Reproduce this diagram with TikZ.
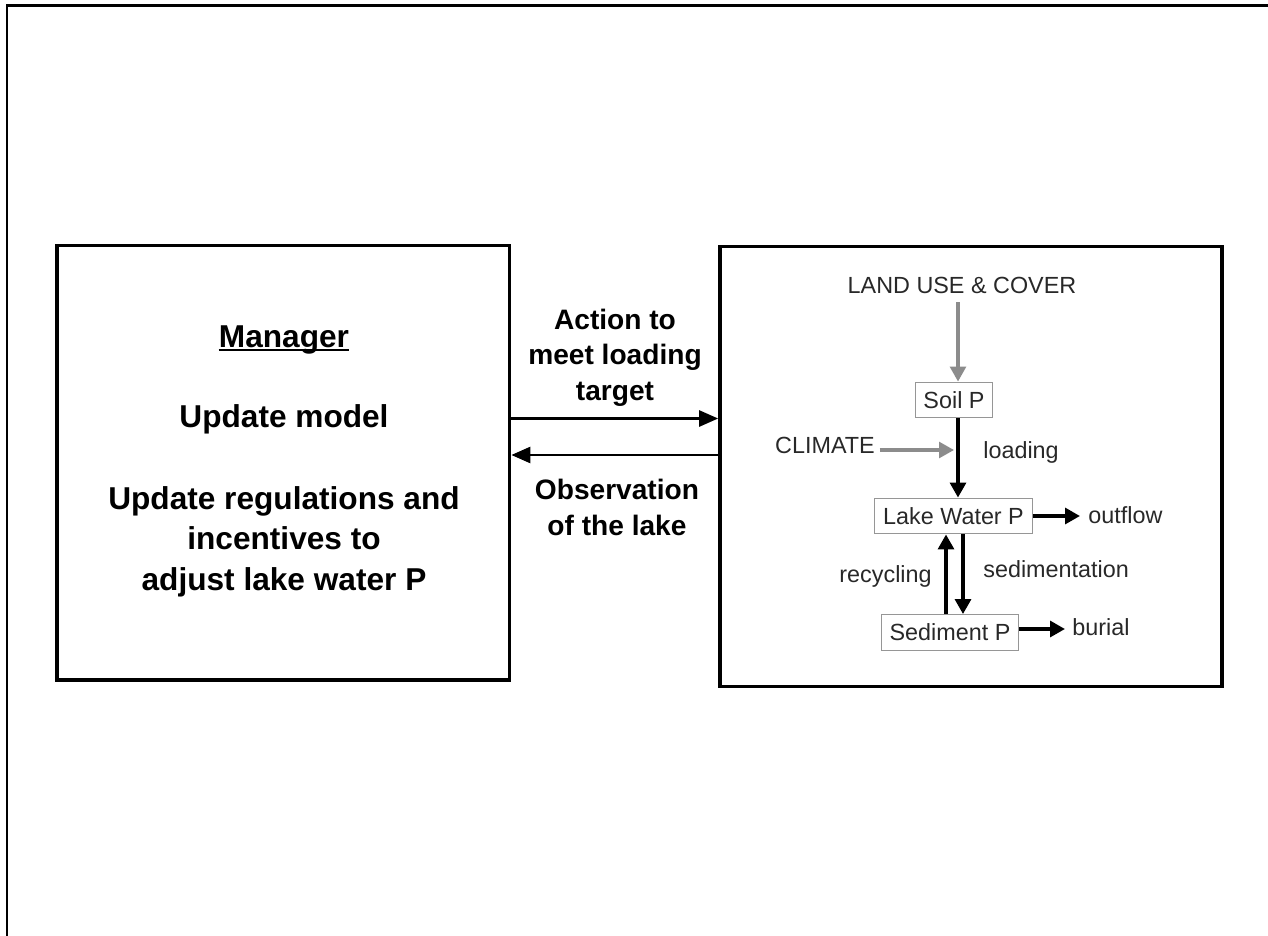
\documentclass[tikz,border=0pt]{standalone}
\usepackage{fontspec}
\setmainfont{Liberation Sans}
\usetikzlibrary{arrows.meta}
\definecolor{arrgray}{RGB}{140,140,140}
\definecolor{boxgray}{RGB}{150,150,150}
\definecolor{txtgray}{RGB}{40,40,40}

\tikzset{
  bigbox/.style={draw,line width=2.1pt},
  compbox/.style={draw=boxgray,line width=0.6pt,text=txtgray,
    font=\fontsize{13.3}{16}\selectfont,inner xsep=4.8pt,inner ysep=0pt,
    minimum height=20.4pt},
  lbl/.style={text=txtgray,font=\fontsize{13.3}{16}\selectfont,inner sep=0pt},
  mtxt/.style={font=\fontsize{18}{23}\selectfont\bfseries,inner sep=0pt},
  ctxt/.style={font=\fontsize{16}{20}\selectfont\bfseries,inner sep=0pt},
  big/.style={line width=1.7pt,-{Triangle[length=10.8pt,width=9pt]}},
  blk/.style={line width=2pt,-{Triangle[length=8.5pt,width=9pt]}},
  gry/.style={draw=arrgray,line width=1.8pt,-{Triangle[length=8.5pt,width=9pt]}}
}

\begin{document}
\begin{tikzpicture}[x=0.02cm,y=-0.02cm]
  \useasboundingbox (0,0) rectangle (1268,936);
  % frame of the page
  \draw[line width=1.3pt] (7,950) -- (7,5.5) -- (1280,5.5);

  \node[bigbox,minimum width=9.05cm,minimum height=8.69cm] (MB) at (283.25,462.75) {};
  \node[bigbox,minimum width=10.04cm,minimum height=8.8cm] (SB) at (971,466.5) {};

  % manager
  \node[mtxt,anchor=base] (Mgr) at (284,347) {Manager};
  \draw[line width=1pt] ([yshift=-1.7pt]Mgr.base west) -- ([yshift=-1.7pt]Mgr.base east);
  \node[mtxt,anchor=base] (Upd) at (284,427) {Update model};
  \node[mtxt,align=center,anchor=base] (Reg) at (284,590) {Update regulations and\\incentives to\\adjust lake water P};

  % between the boxes
  \coordinate (a1) at (0,418.5);
  \coordinate (a2) at (0,455);
  \draw[big] (MB.east |- a1) -- (SB.west |- a1);
  \draw[big] (SB.west |- a2) -- (MB.east |- a2);
  \node[ctxt,align=center,anchor=base] (Act) at (615,400) {Action to\\meet loading\\target};
  \node[ctxt,align=center,anchor=base] (Obs) at (617,535) {Observation\\of the lake};

  % lake model
  \node[lbl,anchor=base] (LU) at (962,293) {LAND USE \& COVER};
  \node[compbox] (Soil) at (954,400) {Soil P};
  \node[compbox] (Lake) at (953.5,516) {Lake Water P};
  \node[compbox] (Sed) at (950,632.5) {Sediment P};
  \coordinate (landin) at (958,302);
  \draw[gry] (landin) -- (Soil.north -| landin);
  \draw[blk] (Soil.south -| landin) -- (Lake.north -| landin);
  \node[lbl,inner xsep=2.5pt,anchor=base] (Cli) at (825,453) {CLIMATE};
  \coordinate (climin) at (954,450);
  \draw[gry] (Cli.east |- climin) -- (climin);
  \node[lbl,anchor=base west] (Load) at (983,458) {loading};
  \coordinate (outend) at (1080,516);
  \draw[blk] (Lake.east |- outend) -- (outend);
  \node[lbl,anchor=base west] (Out) at (1088,523) {outflow};
  \coordinate (rec) at (946,0);
  \coordinate (sdm) at (963,0);
  \draw[blk] (Sed.north -| rec) -- (Lake.south -| rec);
  \draw[blk] (Lake.south -| sdm) -- (Sed.north -| sdm);
  \node[lbl,anchor=base east] (Rec) at (932,582) {recycling};
  \node[lbl,anchor=base west] (Sdm) at (983,577) {sedimentation};
  \coordinate (burend) at (1065,629);
  \draw[blk] (Sed.east |- burend) -- (burend);
  \node[lbl,anchor=base west] (Bur) at (1072,635) {burial};
\end{tikzpicture}
\end{document}
